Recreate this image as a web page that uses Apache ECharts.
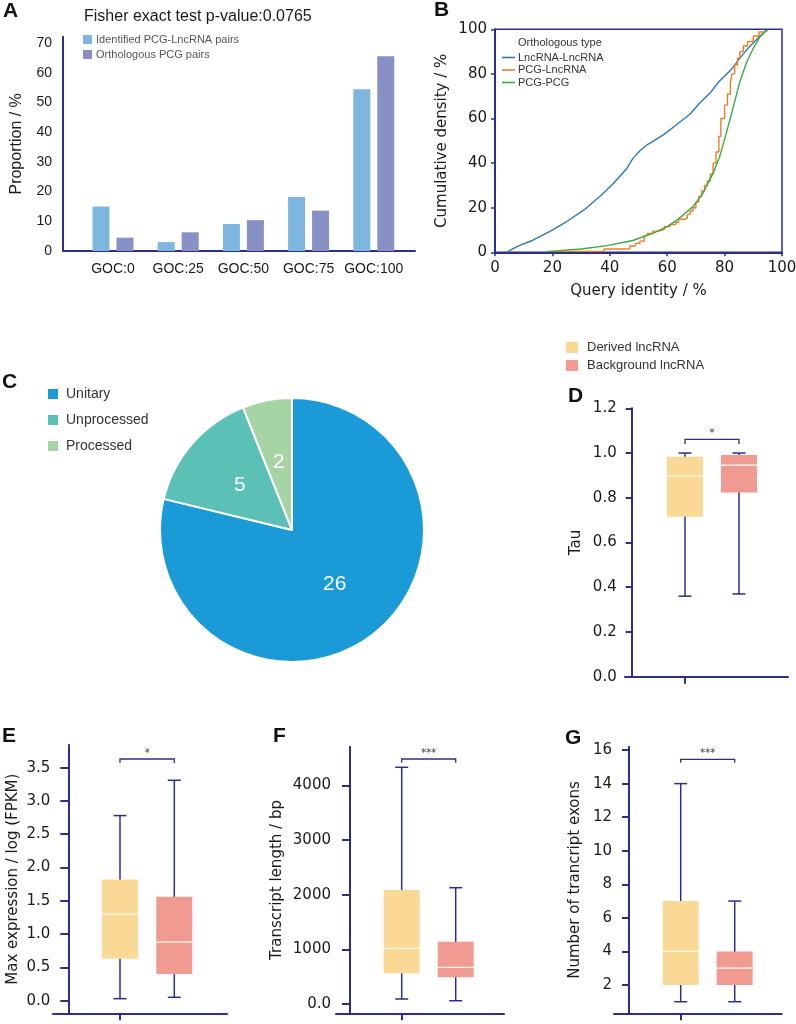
<!DOCTYPE html>
<html><head><meta charset="utf-8">
<script src="https://cdn.jsdelivr.net/npm/echarts@6/dist/echarts.min.js"></script>
<style>html,body{margin:0;padding:0;background:#fff}#c{width:796px;height:1024px}</style>
</head><body><div id="c"></div>
<script>
// ---------- DATA ----------
const gocCategories = ['GOC:0', 'GOC:25', 'GOC:50', 'GOC:75', 'GOC:100'];
const identifiedPairs = [15.0, 3.0, 9.1, 18.2, 54.5];
const orthologousPairs = [4.5, 6.3, 10.4, 13.6, 65.6];
const proportionTicks = [0, 10, 20, 30, 40, 50, 60, 70];

const lncLncCurve = [[4,0],[6.5,1.8],[9,3.3],[13,5.3],[19,9.3],[25,13.8],[31,19],[36.5,25],[41,30.5],[46,37.7],[48,42],[50.5,45.5],[53,48.2],[56,50.5],[59,53],[63,57],[68,62],[71,66.5],[75,71.5],[78,76.5],[82,81.5],[85,86.5],[88.5,92],[92,96.5],[94,99],[95,99.5]];
const pcgLncCurve = [[19,0.4],[37,0.6],[38,1.5],[45,1.6],[47,2.8],[49,4],[50.5,5],[52,7.5],[53,8.5],[55,9.5],[57,10.2],[59,11.5],[61,12.5],[63,13.5],[64,14.8],[66,15.2],[67,17],[68,18.5],[69,20],[70,22.5],[71,25],[72,27.5],[73,30],[74,32],[75,35],[76,40],[77,45],[78,52],[78.7,60],[80,66],[81,71],[82,76],[82.6,80],[83.5,84],[84.5,87],[85.3,90],[86.5,92.5],[88,94.5],[90,97],[92,98.8],[94,99.5]];
const pcgPcgCurve = [[18,0.3],[30,1.5],[39,3],[48,5.3],[55,8.5],[60,11.5],[64,15],[69,20.5],[72.5,26.5],[76,35.5],[78.3,43],[80.5,53],[83,65],[85.2,76],[87.6,85],[90,91.5],[92.2,96.4],[94.5,99.4],[95,99.6]];

const pieNames = ['Unitary', 'Unprocessed', 'Processed'];
const pieValues = [26, 5, 2];

const boxGroups = ['Derived lncRNA', 'Background lncRNA'];
// [low whisker, Q1, median, Q3, high whisker]
const tauDerived = [0.36, 0.715, 0.897, 0.983, 1.0];
const tauBackground = [0.37, 0.823, 0.946, 0.991, 1.0];
const exprDerived = [0.03, 0.63, 1.30, 1.82, 2.78];
const exprBackground = [0.05, 0.40, 0.88, 1.56, 3.31];
const lenDerived = [92, 562, 1020, 2088, 4335];
const lenBackground = [60, 489, 672, 1141, 2130];
const exonDerived = [1, 2, 4, 7, 14];
const exonBackground = [1, 2, 3, 4, 7];
const tauTicks = [0, 0.2, 0.4, 0.6, 0.8, 1.0, 1.2];
const exprTicks = [0, 0.5, 1.0, 1.5, 2.0, 2.5, 3.0, 3.5];
const lenTicks = [0, 1000, 2000, 3000, 4000];
const exonTicks = [2, 4, 6, 8, 10, 12, 14, 16];
// significance brackets: [base, top, label]
const tauSig = [1.04, 1.061, '*'];
const exprSig = [3.57, 3.63, '*'];
const lenSig = [4420, 4487, '***'];
const exonSig = [15.24, 15.45, '***'];

// ---------- STYLE ----------
const NAVY = '#2b2f8a';
const TXT = '#1a1a1a';
const ARIAL = 'Liberation Sans, Arial, sans-serif';
const DJV = 'DejaVu Sans, sans-serif';
const YEL = '#f9d995', PINK = '#f19a92';

const chart = echarts.init(document.getElementById('c'), null, {renderer: 'canvas'});

const grids = [], xAxes = [], yAxes = [], series = [];
function addGrid(g) { grids.push(Object.assign({outerBoundsMode: 'none', containLabel: false}, g)); return grids.length - 1; }

// ===== Panel A =====
const gA0 = addGrid({left: 63, top: 36.7, width: 352, height: 214.3});
xAxes.push({gridIndex: gA0, type: 'value', min: 0, max: 1, axisLine: {show: true, onZero: false, lineStyle: {color: NAVY, width: 2}}, axisTick: {show: false}, axisLabel: {show: false}, splitLine: {show: false}});
yAxes.push({gridIndex: gA0, type: 'value', min: 0, max: 72.2, axisLine: {show: true, onZero: false, lineStyle: {color: NAVY, width: 2}}, axisTick: {show: false}, splitLine: {show: false},
  axisLabel: {customValues: proportionTicks, margin: 11, fontSize: 14, color: TXT, fontFamily: ARIAL},
  name: 'Proportion / %', nameLocation: 'middle', nameGap: 38, nameTextStyle: {fontSize: 16, color: TXT, fontFamily: ARIAL}});
const gA1 = addGrid({left: 80.4, top: 36.7, width: 326, height: 214.3});
const xA1 = xAxes.length;
xAxes.push({gridIndex: gA1, type: 'category', data: gocCategories, axisLine: {show: false, onZero: false}, axisTick: {show: false}, axisLabel: {interval: 0, margin: 11, fontSize: 14, color: TXT, fontFamily: ARIAL}});
const yA1 = yAxes.length;
yAxes.push({gridIndex: gA1, type: 'value', min: 0, max: 72.2, show: false});
series.push({name: 'Identified PCG-LncRNA pairs', type: 'bar', xAxisIndex: xA1, yAxisIndex: yA1, data: identifiedPairs, barWidth: 17, barGap: '41%', itemStyle: {color: '#7db7df'}});
series.push({name: 'Orthologous PCG pairs', type: 'bar', xAxisIndex: xA1, yAxisIndex: yA1, data: orthologousPairs, barWidth: 17, itemStyle: {color: '#8791c5'}});

// ===== Panel B =====
const gB = addGrid({left: 495, top: 29.3, width: 287, height: 223, show: true, borderColor: NAVY, borderWidth: 1.5});
const xB = xAxes.length;
xAxes.push({gridIndex: gB, type: 'value', min: 0, max: 100, interval: 20, axisLine: {show: true, onZero: false, lineStyle: {color: NAVY, width: 2}}, axisTick: {show: true, length: 4, lineStyle: {color: NAVY, width: 1.5}}, splitLine: {show: false},
  axisLabel: {margin: 8, fontSize: 15, color: TXT, fontFamily: DJV},
  name: 'Query identity / %', nameLocation: 'middle', nameGap: 31, nameTextStyle: {fontSize: 15, color: TXT, fontFamily: DJV}});
const yB = yAxes.length;
yAxes.push({gridIndex: gB, type: 'value', min: 0, max: 100, interval: 20, axisLine: {show: true, onZero: false, lineStyle: {color: NAVY, width: 2}}, axisTick: {show: true, length: 4, lineStyle: {color: NAVY, width: 1.5}}, splitLine: {show: false},
  axisLabel: {margin: 8, fontSize: 15, color: TXT, fontFamily: DJV},
  name: 'Cumulative density / %', nameLocation: 'middle', nameGap: 45, nameTextStyle: {fontSize: 15, color: TXT, fontFamily: DJV}});
const lineBase = {type: 'line', xAxisIndex: xB, yAxisIndex: yB, symbol: 'none', showSymbol: false, smooth: false};
series.push(Object.assign({}, lineBase, {name: 'LncRNA-LncRNA', data: lncLncCurve, lineStyle: {color: '#2f78b8', width: 1.4}, itemStyle: {color: '#2f78b8'}}));
series.push(Object.assign({}, lineBase, {name: 'PCG-LncRNA', data: pcgLncCurve, step: 'end', lineStyle: {color: '#ef7d22', width: 1.4}, itemStyle: {color: '#ef7d22'}}));
series.push(Object.assign({}, lineBase, {name: 'PCG-PCG', data: pcgPcgCurve, lineStyle: {color: '#3aaa46', width: 1.4}, itemStyle: {color: '#3aaa46'}}));

// ===== Panel C =====
series.push({name: 'pieC', type: 'pie', center: [292, 530], radius: 132, startAngle: 90, clockwise: true,
  data: pieNames.map((n, i) => ({name: n, value: pieValues[i]})),
  color: ['#1a9ad6', '#5bc0b6', '#a6d4a4'],
  itemStyle: {borderColor: '#fff', borderWidth: 2},
  label: {show: true, position: 'inside', formatter: '{c}', color: '#fff', fontSize: 21, fontFamily: ARIAL},
  labelLine: {show: false}, emphasis: {disabled: true}});

// ===== Box panels =====
function boxRender(params, api) {
  const x = api.value(0);
  const low = api.coord([x, api.value(1)]);
  const q1 = api.coord([x, api.value(2)]);
  const med = api.coord([x, api.value(3)]);
  const q3 = api.coord([x, api.value(4)]);
  const high = api.coord([x, api.value(5)]);
  const bw = 36, cap = 13;
  const ls = {stroke: NAVY, lineWidth: 1.5};
  return {type: 'group', children: [
    {type: 'line', shape: {x1: low[0], y1: low[1], x2: high[0], y2: high[1]}, style: ls},
    {type: 'line', shape: {x1: low[0] - cap / 2, y1: low[1], x2: low[0] + cap / 2, y2: low[1]}, style: ls},
    {type: 'line', shape: {x1: high[0] - cap / 2, y1: high[1], x2: high[0] + cap / 2, y2: high[1]}, style: ls},
    {type: 'rect', shape: {x: q3[0] - bw / 2, y: q3[1], width: bw, height: q1[1] - q3[1]}, style: {fill: api.visual('color')}},
    {type: 'line', shape: {x1: med[0] - bw / 2, y1: med[1], x2: med[0] + bw / 2, y2: med[1]}, style: {stroke: '#fffbe8', lineWidth: 1.2}}
  ]};
}
const sigText = {};
function sigRender(params, api) {
  const a0 = api.coord([0, api.value(0)]);
  const a1 = api.coord([0, api.value(1)]);
  const b1 = api.coord([1, api.value(1)]);
  const b0 = api.coord([1, api.value(0)]);
  return {type: 'group', children: [
    {type: 'polyline', shape: {points: [a0, a1, b1, b0]}, style: {stroke: NAVY, lineWidth: 1.3, fill: null}},
    {type: 'text', style: {text: sigText[params.seriesIndex] || '', x: (a1[0] + b1[0]) / 2, y: a1[1] - 1, align: 'center', verticalAlign: 'bottom', fontSize: 10, fill: '#333', fontFamily: DJV}}
  ]};
}
function boxPanel(cfg) {
  // axis frame grid
  const g0 = addGrid({left: cfg.axLeft, top: cfg.top, width: cfg.axWidth, height: cfg.height});
  xAxes.push({gridIndex: g0, type: 'value', min: 0, max: 1, axisLine: {show: true, onZero: false, lineStyle: {color: NAVY, width: 2}}, axisTick: {show: false}, axisLabel: {show: false}, splitLine: {show: false}});
  yAxes.push({gridIndex: g0, type: 'value', min: cfg.min, max: cfg.max, offset: -(cfg.yLine - cfg.axLeft),
    axisLine: {show: true, onZero: false, lineStyle: {color: NAVY, width: 2}},
    axisTick: {show: true, customValues: cfg.ticks, length: cfg.tickLen, lineStyle: {color: NAVY, width: 2}},
    axisLabel: {customValues: cfg.ticks, formatter: cfg.fmt, margin: cfg.margin, fontSize: 15, color: TXT, fontFamily: DJV},
    splitLine: {show: false},
    name: cfg.name, nameLocation: 'middle', nameGap: cfg.nameGap, nameTextStyle: {fontSize: 15, color: TXT, fontFamily: DJV}});
  // box grid
  const g1 = addGrid({left: cfg.c0 - (cfg.c1 - cfg.c0) / 2, top: cfg.top, width: (cfg.c1 - cfg.c0) * 2, height: cfg.height});
  const xi = xAxes.length;
  xAxes.push({gridIndex: g1, type: 'category', data: boxGroups, axisLine: {show: false, onZero: false}, axisTick: {show: true, alignWithLabel: true, length: 7, lineStyle: {color: NAVY, width: 2}}, axisLabel: {show: false}});
  const yi = yAxes.length;
  yAxes.push({gridIndex: g1, type: 'value', min: cfg.min, max: cfg.max, show: false});
  series.push({name: boxGroups[0], type: 'custom', xAxisIndex: xi, yAxisIndex: yi, renderItem: boxRender, itemStyle: {color: YEL}, data: [[0].concat(cfg.d)], encode: {x: 0, y: [1, 2, 3, 4, 5]}, silent: true});
  series.push({name: boxGroups[1], type: 'custom', xAxisIndex: xi, yAxisIndex: yi, renderItem: boxRender, itemStyle: {color: PINK}, data: [[1].concat(cfg.b)], encode: {x: 0, y: [1, 2, 3, 4, 5]}, silent: true});
  sigText[series.length] = cfg.sig[2];
  series.push({name: 'sig', type: 'custom', xAxisIndex: xi, yAxisIndex: yi, renderItem: sigRender, data: [[cfg.sig[0], cfg.sig[1]]], encode: {y: [0, 1]}, silent: true});
}
const fmt1 = v => v.toFixed(1);
boxPanel({axLeft: 625, axWidth: 163, yLine: 631.7, top: 408.3, height: 268.4, min: 0, max: 1.2, ticks: tauTicks, fmt: fmt1, tickLen: 6, margin: 15, c0: 685, c1: 739, d: tauDerived, b: tauBackground, sig: tauSig, name: 'Tau', nameGap: 48});
boxPanel({axLeft: 53, axWidth: 174, yLine: 68.3, top: 745, height: 268.3, min: -0.19, max: 3.84, ticks: exprTicks, fmt: fmt1, tickLen: 8, margin: 18, c0: 120, c1: 174.3, d: exprDerived, b: exprBackground, sig: exprSig, name: 'Max expression / log (FPKM)', nameGap: 48});
boxPanel({axLeft: 336, axWidth: 168, yLine: 350, top: 746.7, height: 266.6, min: -170, max: 4712, ticks: lenTicks, fmt: v => (v === 0 ? '0.0' : String(v)), tickLen: 8, margin: 19, c0: 401.7, c1: 455.7, d: lenDerived, b: lenBackground, sig: lenSig, name: 'Transcript length / bp', nameGap: 65});
boxPanel({axLeft: 614, axWidth: 167.7, yLine: 629, top: 746.7, height: 266.6, min: 0.31, max: 16.2, ticks: exonTicks, fmt: v => String(v), tickLen: 7, margin: 17, c0: 680.7, c1: 734.7, d: exonDerived, b: exonBackground, sig: exonSig, name: 'Number of trancript exons', nameGap: 46});

// ---------- titles / letters ----------
const letter = (t, l, tp) => ({text: t, left: l, top: tp, padding: 0, textStyle: {fontSize: 21, fontWeight: 'bold', color: '#111', fontFamily: ARIAL}});
const titles = [
  letter('A', 3, 1), letter('B', 434, 0), letter('C', 2, 372), letter('D', 568, 386), letter('E', 2, 726), letter('F', 273, 726), letter('G', 565, 728),
  {text: 'Fisher exact test p-value:0.0765', left: 84, top: 9, padding: 0, textStyle: {fontSize: 16, fontWeight: 'normal', color: TXT, fontFamily: ARIAL}},
  {text: 'Orthologous type', left: 518, top: 37, padding: 0, textStyle: {fontSize: 11, fontWeight: 'normal', color: '#333', fontFamily: ARIAL}}
];

const LINE_ICON = 'path://M0,0 L13,0 L13,1.6 L0,1.6 Z';
const legends = [
  {data: ['Identified PCG-LncRNA pairs', 'Orthologous PCG pairs'], left: 83, top: 34, orient: 'vertical', itemWidth: 9, itemHeight: 9, itemGap: 4, icon: 'rect', padding: 0, selectedMode: false, textStyle: {fontSize: 11, color: '#555', fontFamily: ARIAL, padding: [0, 0, 0, -1]}},
  {data: ['LncRNA-LncRNA', 'PCG-LncRNA', 'PCG-PCG'], left: 502, top: 52, orient: 'vertical', icon: LINE_ICON, itemWidth: 13, itemHeight: 1.6, itemGap: 1.5, padding: 0, selectedMode: false, textStyle: {fontSize: 11, color: '#333', fontFamily: ARIAL, padding: [0, 0, 0, -2]}},
  {data: pieNames, left: 46, top: 387, orient: 'vertical', itemWidth: 12, itemHeight: 12, itemGap: 12, icon: 'rect', padding: 0, selectedMode: false, textStyle: {fontSize: 14, color: '#333', fontFamily: ARIAL, padding: [0, 0, 0, 2]}},
  {data: boxGroups, left: 566, top: 341, orient: 'vertical', itemWidth: 12, itemHeight: 11, itemGap: 5, icon: 'rect', padding: 0, selectedMode: false, textStyle: {fontSize: 13, color: '#333', fontFamily: ARIAL, padding: [0, 0, 0, 4]}}
];

chart.setOption({
  animation: false,
  backgroundColor: '#fff',
  title: titles,
  legend: legends,
  grid: grids,
  xAxis: xAxes,
  yAxis: yAxes,
  series: series
});
</script></body></html>
